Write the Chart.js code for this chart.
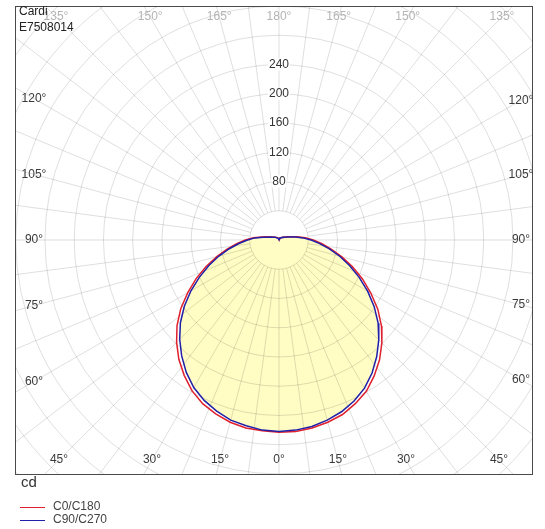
<!DOCTYPE html>
<html>
<head>
<meta charset="utf-8">
<script src="https://cdn.jsdelivr.net/npm/chart.js@4.4.0/dist/chart.umd.min.js"></script>
<style>
  html, body { margin: 0; padding: 0; background: #fff; }
  #wrap { position: relative; width: 545px; height: 529px; font-family: 'Liberation Sans', Arial, sans-serif; color: #222; }
  #polar { position: absolute; left: 0; top: 0; }
  .txt { position: absolute; font-size: 12px; line-height: 14px; white-space: nowrap; }
  .unit { position: absolute; left: 21px; top: 473px; font-size: 15px; line-height: 18px; color: #333; }
  .key { position: absolute; left: 20px; width: 25px; height: 1px; }
</style>
</head>
<body>
<div id="wrap">
  <canvas id="polar" width="545" height="529"></canvas>
  <div class="txt" style="left:19px; top:4px;">Cardi</div>
  <div class="txt" style="left:19px; top:20px;">E7508014</div>
  <div class="unit">cd</div>
  <div class="key" style="top:507px; background:#e0202c;"></div>
  <div class="txt" style="left:53px; top:499px; color:#444;">C0/C180</div>
  <div class="key" style="top:520px; background:#2020a8;"></div>
  <div class="txt" style="left:53px; top:512px; color:#444;">C90/C270</div>
</div>
<script>
// Gamma angles (deg) from nadir (0) to zenith (180)
const gamma = [0, 5, 10, 15, 20, 25, 30, 35, 40, 45, 50, 55, 60, 65, 70, 75, 80, 85, 90,
  95, 100, 105, 110, 115, 120, 125, 130, 135, 140, 145, 150, 155, 160, 165, 170, 175, 180];

// Luminous intensity (cd) per C-plane
const c0 = [263, 263, 261, 258, 254, 247, 239, 227, 214, 199, 183, 165, 145, 126, 107, 89, 73, 59, 47,
  36, 25, 17, 13, 10, 8, 6.5, 5.5, 5, 4.5, 4, 3.5, 3, 2.5, 2, 1.6, 1.2, 1];
const c180 = [263, 262, 261, 258, 253, 247, 238, 226, 213, 198, 182, 164, 144, 125, 106, 88, 72, 58, 46,
  35, 24, 17, 12, 10, 8, 6.5, 5.5, 5, 4.5, 4, 3.5, 3, 2.5, 2, 1.6, 1.2, 1];
const c90 = [262, 261, 259, 255, 250, 243, 234, 222, 208, 193, 177, 159, 140, 121, 103, 86, 70, 56, 44,
  33, 23, 16, 12, 9, 7.5, 6.5, 5.5, 4.5, 4, 3.5, 3, 2.5, 2, 1.6, 1.4, 1.1, 1];
const c270 = [262, 261, 258, 255, 249, 242, 233, 221, 207, 192, 176, 158, 139, 120, 102, 85, 69, 55, 43,
  33, 22, 15, 12, 9, 7.5, 6.5, 5.5, 4.5, 4, 3.5, 3, 2.5, 2, 1.6, 1.4, 1.1, 1];

// Intensity rings and the ones that carry a value label
const ringValues = [40, 80, 120, 160, 200, 240, 280, 320, 360, 400, 440, 480];
const ringLabels = [80, 120, 160, 200, 240];

// Angle labels around the frame
const topLabels = [[-45, '135°'], [-30, '150°'], [-15, '165°'], [0, '180°'], [15, '165°'], [30, '150°'], [45, '135°']];
const bottomLabels = [[-45, '45°'], [-30, '30°'], [-15, '15°'], [0, '0°'], [15, '15°'], [30, '30°'], [45, '45°']];
const sideLabels = [[30, '120°'], [15, '105°'], [0, '90°'], [-15, '75°'], [-30, '60°']];

const rad = d => d * Math.PI / 180;

// Left half goes nadir -> zenith, right half comes back zenith -> nadir
const trace = (right, left) => {
  const pts = [];
  gamma.forEach((g, i) => pts.push({ x: -left[i] * Math.sin(rad(g)), y: -left[i] * Math.cos(rad(g)) }));
  for (let i = gamma.length - 1; i >= 0; i--) {
    pts.push({ x: right[i] * Math.sin(rad(gamma[i])), y: -right[i] * Math.cos(rad(gamma[i])) });
  }
  return pts;
};

const font = "12px 'Liberation Sans', Arial, sans-serif";

const polarGrid = {
  id: 'polarGrid',
  beforeDatasetsDraw(chart) {
    const { ctx, chartArea: a, scales: { x, y } } = chart;
    const cx = x.getPixelForValue(0);
    const cy = y.getPixelForValue(0);
    const len = v => x.getPixelForValue(v) - cx;

    ctx.save();
    ctx.beginPath();
    ctx.rect(a.left, a.top, a.right - a.left, a.bottom - a.top);
    ctx.clip();

    // yellow area under the C90/C270 curve
    const pts = chart.getDatasetMeta(0).data;
    ctx.beginPath();
    pts.forEach((p, i) => (i ? ctx.lineTo(p.x, p.y) : ctx.moveTo(p.x, p.y)));
    ctx.closePath();
    ctx.fillStyle = '#fffcc4';
    ctx.fill();

    // rings
    ctx.strokeStyle = 'rgba(0,0,0,0.13)';
    ctx.lineWidth = 1;
    ringValues.forEach(v => {
      ctx.beginPath();
      ctx.arc(cx, cy, len(v), 0, Math.PI * 2);
      ctx.stroke();
    });

    // spokes, starting at the first ring
    const r0 = len(ringValues[0]);
    const r1 = len(1000);
    for (let d = 0; d < 360; d += 7.5) {
      const s = Math.sin(rad(d)), c = Math.cos(rad(d));
      ctx.beginPath();
      ctx.moveTo(cx + r0 * s, cy + r0 * c);
      ctx.lineTo(cx + r1 * s, cy + r1 * c);
      ctx.stroke();
    }

    // ring values on the zenith axis
    ctx.font = font;
    ctx.textAlign = 'center';
    ctx.textBaseline = 'middle';
    ringLabels.forEach(v => {
      const ty = cy - len(v);
      const w = ctx.measureText(String(v)).width;
      ctx.fillStyle = '#fff';
      ctx.fillRect(cx - w / 2 - 1, ty - 6, w + 2, 12);
      ctx.fillStyle = '#333';
      ctx.fillText(String(v), cx, ty);
    });

    // angle labels
    const topY = a.top + 11;
    const botY = a.bottom - 15;
    ctx.fillStyle = '#b4b4b4';
    topLabels.forEach(([d, t]) => ctx.fillText(t, cx + Math.tan(rad(d)) * (cy - topY), topY));
    ctx.fillStyle = '#3a3a3a';
    bottomLabels.forEach(([d, t]) => ctx.fillText(t, cx + Math.tan(rad(d)) * (botY - cy), botY));
    const leftX = a.left + 19;
    const rightX = a.right - 12;
    sideLabels.forEach(([d, t]) => {
      ctx.fillText(t, leftX, cy - Math.tan(rad(d)) * (cx - leftX));
      ctx.fillText(t, rightX, cy - Math.tan(rad(d)) * (rightX - cx));
    });
    ctx.restore();
  },
  afterDraw(chart) {
    const { ctx, chartArea: a } = chart;
    ctx.save();
    ctx.strokeStyle = '#4a4a4a';
    ctx.lineWidth = 1;
    ctx.strokeRect(a.left + 0.5, a.top + 0.5, a.right - a.left - 1, a.bottom - a.top - 1);
    ctx.restore();
  },
};

new Chart(document.getElementById('polar'), {
  type: 'scatter',
  data: {
    datasets: [
      {
        label: 'C90/C270',
        data: trace(c90, c270),
        showLine: true,
        borderColor: '#2020a8',
        borderWidth: 1.5,
        pointRadius: 0,
        tension: 0,
      },
      {
        label: 'C0/C180',
        data: trace(c0, c180),
        showLine: true,
        borderColor: '#e0202c',
        borderWidth: 1.5,
        pointRadius: 0,
        tension: 0,
      },
    ],
  },
  options: {
    responsive: false,
    animation: false,
    layout: { padding: { left: 15, top: 6, right: 12, bottom: 54 } },
    scales: {
      x: { type: 'linear', display: false, min: -361, max: 347.4 },
      y: { type: 'linear', display: false, min: -321.4, max: 320 },
    },
    plugins: {
      legend: { display: false },
      tooltip: { enabled: false },
    },
    events: [],
  },
  plugins: [polarGrid],
});
</script>
</body>
</html>
